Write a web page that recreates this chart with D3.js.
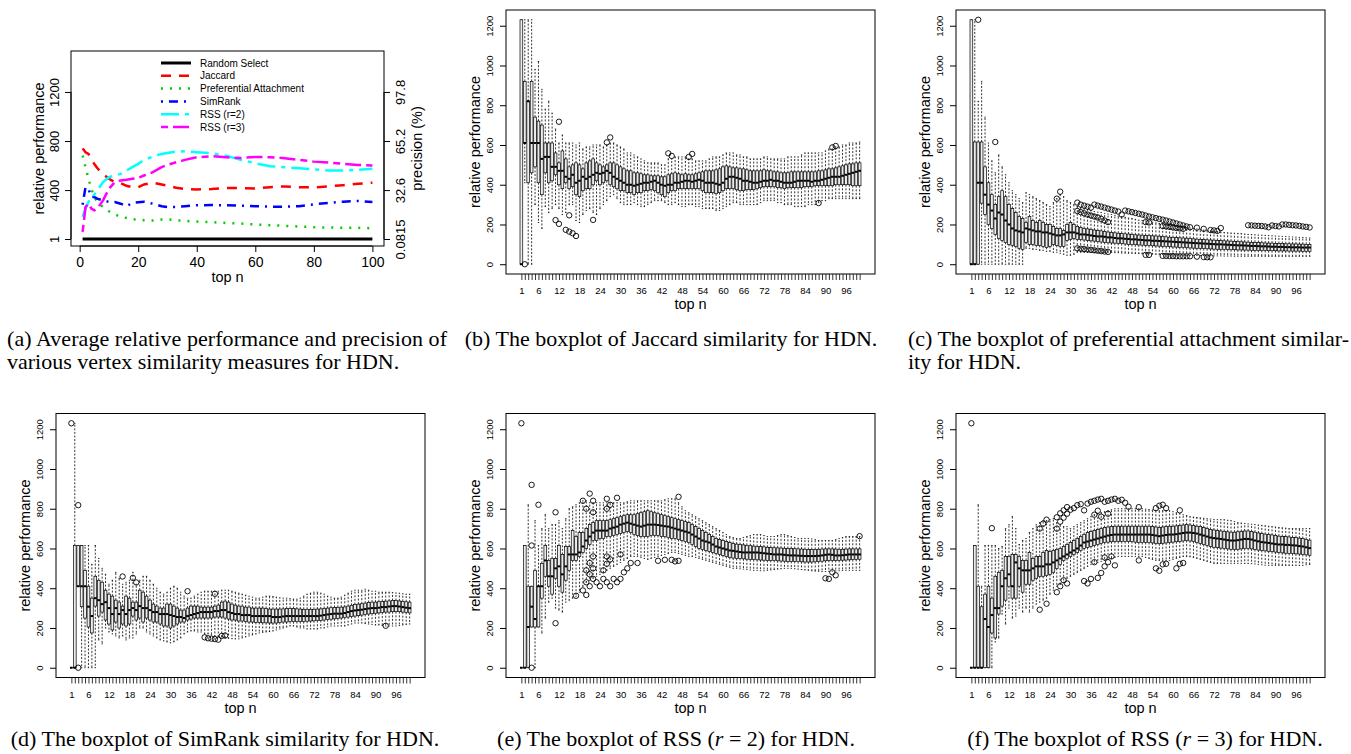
<!DOCTYPE html>
<html>
<head>
<meta charset="utf-8">
<script src="https://cdn.jsdelivr.net/npm/d3@7"></script>
<style>
  body { margin: 0; background: #fff; }
  svg { display: block; }
</style>
</head>
<body>
<svg id="fig" width="1351" height="754"></svg>
<script>
// ---------- panel (a): average relative performance ----------
var topN = [1,2,3,4,5,6,8,10,12,14,16,18,20,22,25,28,30,33,36,40,45,50,55,60,65,70,75,80,85,90,95,100];
var randomSel = [1,1,1,1,1,1,1,1,1,1,1,1,1,1,1,1,1,1,1,1,1,1,1,1,1,1,1,1,1,1,1,1];
var jaccard = [740,708,695,650,613,580,530,492,465,457,435,424,424,446,460,446,435,419,408,405,408,416,416,413,424,430,424,422,430,440,451,460];
var prefAttach = [681,587,492,411,343,303,262,227,203,181,173,162,160,154,151,160,162,154,149,143,138,132,127,119,114,108,103,97,95,92,92,89];
var simRank = [280,424,411,343,343,330,316,303,303,289,268,295,300,305,289,268,262,262,268,276,278,276,273,268,265,265,268,284,295,305,311,303];
var rss2 = [181,249,303,343,362,397,465,505,519,532,560,587,614,646,673,695,703,714,716,708,700,681,646,619,595,587,578,568,560,560,565,573];
var rss3 = [59,262,289,249,235,249,316,411,465,478,484,492,500,519,546,587,605,627,646,668,676,668,662,670,668,660,646,632,624,614,605,600];
var seriesNames = ["Random Select", "Jaccard", "Preferential Attachment", "SimRank", "RSS (r=2)", "RSS (r=3)"];
var leftTicks = [1, 400, 800, 1200];
var rightTickLabels = ["0.0815", "32.6", "65.2", "97.8"];
var xTicksA = [0, 20, 40, 60, 80, 100];

// ---------- boxplot panels: one value per top n = 1..100 ----------
var boxLabels = [1,6,12,18,24,30,36,42,48,54,60,66,72,78,84,90,96];
var yTicksBox = [0,200,400,600,800,1000,1200];

// (b) Jaccard
var jacMed = [0,610,820,610,610,610,530,540,540,490, 490,470,470,440,430,450,410,420,440,430,
  440,450,460,455,460,470,460,440,430,420, 410,400,400,395,400,405,410,410,415,420,
  410,400,395,400,400,410,410,415,420,420, 415,420,425,420,410,410,410,405,400,410,
  430,440,440,435,430,420,420,415,410,410, 415,420,420,425,420,420,415,410,410,410,
  415,420,420,420,420,415,420,420,425,430, 435,440,440,440,445,450,455,460,465,470];
var jacQ1 = [0,610,410,460,490,410,350,460,410,420, 450,400,380,410,380,390,350,340,370,380,
  380,400,420,400,410,420,400,390,380,370, 370,360,360,350,360,360,370,370,375,370,
  360,350,340,360,370,370,380,380,380,380, 380,380,380,370,360,360,360,355,360,370,
  380,380,380,375,370,370,375,375,375,380, 385,390,390,390,390,385,385,380,385,385,
  385,385,385,390,390,390,395,395,395,395, 395,395,400,400,400,400,400,395,395,395];
var jacQ3 = [1230,920,820,920,740,720,700,610,610,610, 560,510,570,530,490,500,510,500,480,510,
  520,530,510,500,490,500,510,510,500,490, 480,470,470,460,460,455,450,450,445,445,
  445,440,440,450,455,460,455,450,455,450, 450,455,460,465,470,470,470,475,480,490,
  495,490,485,485,480,480,475,470,470,470, 470,475,470,470,465,465,460,460,460,465,
  465,465,465,465,465,465,465,470,470,475, 480,480,485,490,495,500,505,505,510,510];
var jacLo = [0,410,0,0,300,210,180,290,260,280, 300,280,250,260,300,300,220,210,250,270,
  280,260,250,280,300,320,340,350,330,310, 300,300,300,310,300,290,290,300,310,320,
  320,320,310,300,300,310,300,290,290,300, 300,290,290,280,280,280,280,270,270,280,
  290,300,310,310,300,300,300,300,300,300, 310,320,320,320,320,310,310,300,300,300,
  290,290,290,290,300,300,300,310,320,320, 330,330,330,330,330,330,330,330,330,330];
var jacHi = [1230,1230,1230,1230,980,1020,880,780,820,760, 680,610,650,610,610,610,600,610,580,590,
  590,600,600,600,590,600,610,610,600,590, 580,560,560,550,540,530,520,510,510,510,
  510,500,500,530,530,540,540,540,540,530, 530,520,520,520,520,530,540,540,540,550,
  560,560,560,550,550,540,540,530,530,530, 530,540,540,530,530,530,530,530,540,540,
  540,540,550,560,560,560,560,560,560,570, 580,580,590,590,600,600,610,610,610,615];
var jacOut = [[2,0],[11,222],[12,717],[12,203],[14,173],[15,246],[15,164],[16,156],[17,142],[22,223],
  [26,613],[27,638],[44,558],[45,545],[50,540],[51,555],[88,308],[92,588],[93,595]];

// (c) preferential attachment
var paMed = [0,0,410,410,350,300,270,230,260,250, 220,200,180,170,165,160,180,175,170,165,
  165,160,160,155,150,145,145,150,160,160, 160,155,150,150,148,145,142,140,140,138,
  135,135,132,130,130,128,127,125,125,123, 122,120,120,118,118,117,116,115,114,113,
  112,111,110,109,108,107,106,105,104,103, 102,101,100,100,99,98,97,96,95,95,
  94,93,92,92,91,90,90,89,88,88, 87,87,86,86,85,85,85,84,84,84];
var paQ1 = [0,0,0,307,250,200,180,150,130,120, 110,100,95,90,80,75,110,100,100,95,
  95,90,85,90,100,95,90,90,120,125, 130,125,125,122,120,118,116,114,112,110,
  108,107,106,105,104,102,100,99,98,97, 96,95,94,93,92,91,90,89,88,87,
  86,85,84,83,82,81,80,80,79,78, 77,76,75,75,74,74,73,73,72,72,
  71,71,70,70,70,69,69,68,68,68, 67,67,67,66,66,66,66,65,65,65];
var paQ3 = [1230,615,615,615,490,410,350,300,340,370, 340,300,280,260,240,230,210,240,220,210,
  220,210,200,200,190,180,180,170,200,210, 200,190,185,180,178,175,172,170,168,165,
  162,160,158,156,155,153,152,150,148,147, 146,145,144,143,142,141,140,138,136,135,
  134,133,132,131,130,128,126,125,124,123, 122,121,120,119,118,117,116,115,114,113,
  112,111,110,110,109,108,107,106,106,105, 104,104,103,103,102,102,101,101,100,100];
var paLo = [0,0,0,0,0,0,0,0,0,0, 0,0,0,0,0,0,80,80,75,75,
  70,70,65,65,60,60,55,50,45,45, 50,60,60,60,60,60,60,60,60,60,
  60,60,58,58,56,56,55,55,54,54, 53,52,52,51,50,50,50,49,48,48,
  47,47,46,46,45,45,44,44,44,43, 43,42,42,42,41,41,41,40,40,40,
  40,40,40,40,40,40,40,40,40,40, 40,40,40,40,40,40,40,40,40,40];
var paHi = [1230,1230,820,920,740,610,520,460,550,490, 450,410,370,350,330,310,360,350,340,330,
  320,310,300,290,310,330,350,340,320,310, 300,290,285,280,275,270,265,262,260,256,
  252,250,246,242,240,236,232,230,226,222, 220,217,214,211,208,205,203,200,198,195,
  192,190,187,185,182,180,177,175,172,170, 168,166,164,162,160,158,157,156,155,154,
  152,150,149,148,147,146,145,144,143,142, 141,140,139,138,137,136,135,134,133,132];
var paOut = [[3,1230],[8,615],[26,330],[27,365],
  [32,310],[33,300],[34,295],[35,290],[36,285],[37,300],[38,295],[39,290],[40,285],[41,280],[42,275],[43,270],[44,265],[45,250],
  [32,268],[33,262],[34,256],[35,250],[36,245],[37,240],[38,235],[39,228],[40,220],[41,212],
  [32,80],[33,78],[34,76],[35,74],[36,72],[37,70],[38,68],[39,66],[40,64],[41,62],
  [46,270],[47,266],[48,262],[49,258],[50,254],[51,250],[52,245],[53,240],[54,236],[55,232],[56,228],[57,224],[58,220],[59,215],[60,210],[61,205],[62,200],[63,195],[64,190],[65,186],
  [52,212],[53,210],[57,192],[58,190],[59,188],[60,185],[61,182],[62,180],[63,178],
  [52,47],[53,47],[57,42],[58,42],[59,41],[60,41],[61,40],[62,40],[63,40],[64,40],[65,40],[67,38],[69,36],[70,35],[71,35],
  [67,184],[69,178],[71,172],[72,170],[73,168],[74,182],
  [82,196],[83,195],[84,194],[85,193],[86,192],[87,190],[88,186],[89,195],[90,192],[91,190],[92,200],[93,200],[94,198],[95,196],[96,195],[97,193],[98,190],[99,188],[100,185]];

// (d) SimRank
var srMed = [0,0,410,410,410,307,260,350,340,320, 330,300,270,300,270,290,270,290,300,290,
  310,300,300,290,280,280,270,270,270,265, 260,255,255,250,260,265,270,275,280,280,
  280,280,285,285,290,290,280,275,270,270, 265,265,265,260,260,260,260,260,260,255,
  255,255,258,260,260,260,260,260,260,260, 260,260,260,262,265,268,270,272,272,272,
  275,280,285,288,290,292,295,298,300,300, 302,305,305,308,310,310,308,305,302,300];
var srQ1 = [0,0,410,307,250,205,175,310,260,280, 240,220,190,230,200,220,210,220,260,240,
  250,230,250,240,230,230,220,210,210,200, 210,220,230,230,240,245,250,250,250,250,
  250,250,255,255,255,250,245,240,240,235, 235,232,230,230,228,228,226,226,225,225,
  225,228,230,230,232,232,232,232,232,234, 235,236,237,238,240,242,244,246,248,250,
  252,255,258,260,262,265,268,270,272,274, 276,278,280,280,282,282,282,280,278,276];
var srQ3 = [0,615,615,615,490,410,350,460,440,430, 390,370,360,340,330,310,360,350,330,330,
  390,380,360,340,320,310,300,300,320,320, 310,300,290,290,300,310,310,310,305,305,
  305,305,310,315,330,335,330,320,315,310, 310,305,305,300,300,300,300,298,295,295,
  295,295,296,298,298,298,296,295,294,294, 294,294,295,296,298,300,302,303,304,305,
  306,310,314,318,320,322,325,328,330,330, 332,334,335,336,338,338,336,334,332,330];
var srLo = [0,0,410,0,0,0,0,0,140,120, 200,180,170,160,150,160,140,150,150,170,
  200,200,180,170,160,150,140,135,130,125, 130,140,150,170,180,185,185,180,180,170,
  170,165,160,158,155,150,148,146,145,145, 150,155,160,165,170,175,178,180,182,185,
  190,195,200,205,210,210,205,200,200,195, 195,195,195,200,200,205,210,210,210,210,
  210,215,220,225,225,225,222,220,218,215, 215,212,210,210,210,210,212,215,218,220];
var srHi = [0,1230,615,615,615,615,520,615,550,500, 470,420,440,480,450,420,430,440,480,420,
  440,460,460,440,420,400,380,370,380,400, 410,400,380,360,350,350,360,370,380,385,
  385,385,385,385,390,390,390,385,380,375, 370,365,360,355,350,350,355,360,360,358,
  355,352,350,350,348,345,345,350,360,370, 375,380,380,375,370,360,355,350,350,355,
  365,375,385,390,390,390,395,390,385,385, 380,380,380,380,378,376,375,372,370,370];
var srOut = [[1,1230],[3,818],[3,0],[16,459],[19,452],[20,429],[35,385],[40,153],[41,148],[42,146],
  [43,144],[44,141],[45,160],[46,162],[43,372],[93,211]];

// (e) RSS r = 2
var r2Med = [0,0,205,307,245,410,410,540,460,460, 500,510,470,510,570,570,570,580,610,640,
  660,680,690,690,690,690,700,705,710,720, 725,730,725,720,715,710,715,720,720,720,
  718,715,712,710,705,700,695,690,685,680, 670,660,650,640,635,630,620,610,605,600,
  595,590,588,585,582,580,580,580,580,580, 578,576,574,572,570,570,570,568,566,565,
  565,564,563,562,562,562,562,563,565,568, 570,568,565,565,566,568,570,570,570,570];
var r2Q1 = [0,0,0,205,205,205,350,460,410,370, 450,410,380,440,490,540,540,560,580,600,
  620,640,640,650,650,660,660,665,670,675, 680,685,680,670,665,660,660,660,665,665,
  665,660,660,655,650,650,645,640,635,630, 620,610,600,595,590,585,580,575,570,565,
  560,555,552,550,550,548,546,545,544,543, 542,541,540,540,540,538,537,536,535,535,
  535,534,533,532,532,532,533,534,536,538, 540,540,540,540,541,542,543,544,545,546];
var r2Q3 = [0,615,410,410,490,410,525,615,540,550, 550,615,570,610,610,690,660,680,680,700,
  720,730,740,740,740,740,745,750,755,760, 765,770,770,770,775,780,785,790,785,780,
  775,770,765,760,755,750,745,740,735,730, 720,710,700,690,680,670,660,650,645,640,
  635,630,625,622,620,618,616,614,612,610, 610,608,606,605,604,603,602,601,600,600,
  599,598,597,596,595,595,595,596,597,598, 598,598,597,596,596,597,598,598,598,598];
var r2Lo = [0,0,0,205,0,205,175,250,330,350, 300,290,280,330,340,350,360,380,410,430,
  440,450,460,470,480,490,500,510,520,530, 540,550,560,560,560,555,550,545,550,555,
  560,565,570,575,580,580,575,570,565,560, 560,555,550,545,540,535,530,525,520,515,
  510,505,500,500,498,496,494,492,490,490, 488,488,490,492,494,496,498,500,500,500,
  498,496,494,492,490,488,486,485,484,484, 485,486,487,488,489,490,490,490,490,490];
var r2Hi = [0,615,820,410,740,615,700,770,700,720, 720,740,700,750,800,810,820,830,840,840,
  830,830,830,830,830,830,830,830,830,830, 830,835,840,840,840,840,840,840,840,840,
  840,840,845,850,850,850,830,810,790,780, 770,760,750,740,730,720,710,700,690,680,
  670,660,655,650,650,655,660,665,670,670, 670,665,660,660,660,665,670,670,665,660,
  655,650,650,650,650,648,645,640,640,640, 640,640,645,650,655,660,660,660,660,660];
var r2Out = [[1,1230],[4,0],[4,615],[4,920],[6,820],[11,782],[11,224],[17,362],[19,389],[19,840],
  [20,366],[20,800],[20,490],[20,430],[21,876],[21,527],[21,470],[21,410],[22,840],[22,782],
  [22,560],[22,500],[22,447],[23,430],[24,410],[25,490],[25,447],[26,850],[26,800],[26,560],
  [26,523],[26,430],[27,820],[27,545],[27,410],[28,447],[29,855],[29,430],[30,570],[30,447],
  [31,480],[32,500],[33,527],[35,527],[41,538],[43,543],[45,543],[46,535],[47,860],[47,538],
  [90,450],[91,447],[92,480],[93,465],[100,662]];

// (f) RSS r = 3
var r3Med = [0,0,0,0,245,205,265,300,300,410, 450,470,410,530,500,490,490,490,500,510,
  510,510,520,520,530,540,550,560,570,580, 590,600,615,630,635,640,645,650,655,660,
  665,668,670,670,670,670,670,670,670,670, 670,670,670,668,665,662,665,668,670,670,
  672,675,678,680,680,678,675,670,665,660, 655,652,650,648,645,642,640,640,642,645,
  648,648,645,640,636,632,630,628,625,622, 620,620,618,618,616,615,612,610,606,602];
var r3Q1 = [0,0,0,0,0,0,175,150,270,310, 340,410,350,350,410,380,420,420,440,450,
  460,460,465,470,480,500,520,540,550,560, 570,580,590,600,605,610,615,620,625,630,
  632,634,635,635,635,635,635,635,632,630, 630,630,630,628,626,624,626,628,630,632,
  634,636,638,640,638,635,630,625,620,615, 610,606,604,602,600,598,596,595,596,598,
  600,600,598,595,592,590,588,586,584,582, 580,578,576,575,574,573,572,570,568,566];
var r3Q3 = [0,615,410,307,370,410,350,460,480,490, 560,560,570,570,560,540,540,580,550,560,
  560,580,590,585,590,595,600,610,620,630, 640,650,660,670,680,685,690,695,700,705,
  708,710,712,712,712,712,712,712,712,712, 712,712,712,710,708,706,708,710,712,712,
  714,716,718,720,718,715,712,710,705,700, 696,693,690,688,686,684,682,682,684,686,
  688,688,685,682,678,675,672,670,668,665, 662,660,660,658,656,655,652,650,646,642];
var r3Lo = [0,0,0,0,0,0,0,130,150,270, 220,300,250,260,300,280,300,280,300,320,
  330,340,350,370,390,410,420,430,450,460, 470,480,490,500,510,520,525,530,535,540,
  545,550,555,560,560,560,560,560,560,560, 560,555,550,545,540,540,540,540,540,545,
  550,555,560,560,558,555,550,545,540,535, 530,525,525,525,525,525,525,525,525,525,
  525,525,524,522,520,518,516,515,515,515, 515,515,515,515,515,515,515,515,518,520];
var r3Hi = [0,615,820,410,615,615,615,615,600,610, 700,720,760,700,620,640,650,680,700,720,
  730,740,740,745,750,730,720,710,710,700, 710,720,730,740,750,760,770,775,780,785,
  790,795,800,800,800,800,800,800,800,800, 800,798,796,794,792,790,790,790,790,785,
  780,775,770,765,760,758,756,754,752,750, 748,746,745,745,745,742,740,735,730,728,
  726,724,722,720,718,716,714,712,710,708, 706,704,702,700,700,700,700,700,700,700];
var r3Out = [[1,1230],[7,702],[21,292],[21,700],[22,725],[23,745],[23,322],[26,757],[26,700],[26,380],
  [27,777],[27,735],[27,410],[28,792],[28,755],[28,440],[29,808],[29,775],[29,424],[30,795],
  [31,803],[32,818],[33,823],[34,436],[34,792],[35,826],[35,424],[36,835],[36,447],[37,840],
  [37,531],[37,770],[38,846],[38,452],[38,790],[39,850],[39,477],[39,760],[40,835],[40,510],
  [40,555],[41,840],[41,775],[41,531],[42,846],[42,560],[43,850],[43,515],[44,840],[45,845],
  [46,830],[47,810],[50,808],[50,540],[55,803],[55,500],[56,815],[56,488],[57,820],[57,520],
  [58,803],[58,523],[61,500],[62,792],[62,523],[63,527]];

var sans = "'Liberation Sans', Arial, Helvetica, sans-serif";
var serif = "'Liberation Serif', 'Times New Roman', Times, serif";
var plainNum = d3.format("d");
var svg = d3.select("#fig");

function rotText(g, x, y, txt, size) {
  return g.append("text")
    .attr("transform", "translate(" + x + "," + y + ") rotate(-90)")
    .attr("text-anchor", "middle")
    .attr("dy", "0.35em")
    .style("font-family", sans)
    .style("font-size", size + "px")
    .text(txt);
}

// ---------- draw panel (a) ----------
function drawLinePanel() {
  var x0 = 71, x1 = 384, y0 = 51, y1 = 246;
  var x = d3.scaleLinear().domain([-2.96, 103.96]).range([x0, x1]);
  var y = d3.scaleLinear().domain([-56, 1534]).range([y1, y0]);
  var g = svg.append("g");

  var series = [randomSel, jaccard, prefAttach, simRank, rss2, rss3];
  var colors = ["#000000", "#ff0000", "#00cd00", "#0000ff", "#00ffff", "#ff00ff"];
  var dashes = [null, "10,8", "2,7", "2,6,9,6", "18,6,4,6", "7,5,16,5"];
  var widths = [3, 2.5, 2.5, 2.5, 2.5, 2.5];

  var line = d3.line()
    .x(function (d, i) { return x(topN[i]); })
    .y(function (d) { return y(d); });

  series.forEach(function (s, k) {
    g.append("path")
      .attr("d", line(s))
      .attr("fill", "none")
      .attr("stroke", colors[k])
      .attr("stroke-width", widths[k])
      .attr("stroke-dasharray", dashes[k]);
  });

  // legend (no border)
  var lg = g.append("g");
  seriesNames.forEach(function (name, k) {
    var ly = 63 + k * 12.8;
    lg.append("line")
      .attr("x1", 161).attr("x2", 191).attr("y1", ly).attr("y2", ly)
      .attr("stroke", colors[k])
      .attr("stroke-width", widths[k])
      .attr("stroke-dasharray", dashes[k]);
    lg.append("text")
      .attr("x", 200).attr("y", ly).attr("dy", "0.35em")
      .style("font-family", sans).style("font-size", "10px")
      .text(name);
  });

  g.append("rect")
    .attr("x", x0).attr("y", y0).attr("width", x1 - x0).attr("height", y1 - y0)
    .attr("fill", "none").attr("stroke", "#000").attr("stroke-width", 1);

  // bottom axis
  var xa = g.append("g").attr("transform", "translate(0," + y1 + ")")
    .call(d3.axisBottom(x).tickValues(xTicksA).tickSize(6).tickPadding(5));
  xa.select(".domain").attr("d", "M" + x(0) + ",0H" + x(100));
  xa.selectAll("text").style("font-family", sans).style("font-size", "14px");

  // left axis
  var la = g.append("g").attr("transform", "translate(" + x0 + ",0)")
    .call(d3.axisLeft(y).tickValues(leftTicks).tickSize(6).tickFormat(plainNum));
  la.select(".domain").attr("d", "M0," + y(1) + "V" + y(1200));
  la.selectAll(".tick text")
    .attr("x", 0).attr("dy", null)
    .attr("text-anchor", "middle")
    .attr("transform", "translate(-12,0) rotate(-90)")
    .style("font-family", sans).style("font-size", "13px");

  // right axis
  var ra = g.append("g").attr("transform", "translate(" + x1 + ",0)")
    .call(d3.axisRight(y).tickValues(leftTicks).tickSize(6)
      .tickFormat(function (d, i) { return rightTickLabels[i]; }));
  ra.select(".domain").attr("d", "M0," + y(1) + "V" + y(1200));
  ra.selectAll(".tick text")
    .attr("x", 0).attr("dy", null)
    .attr("text-anchor", "middle")
    .attr("transform", "translate(21,0) rotate(-90)")
    .style("font-family", sans).style("font-size", "13px");

  g.append("text").attr("x", (x0 + x1) / 2).attr("y", 282)
    .attr("text-anchor", "middle")
    .style("font-family", sans).style("font-size", "14.5px").text("top n");
  rotText(g, 39, (y0 + y1) / 2, "relative performance", 14.5);
  rotText(g, 417, (y0 + y1) / 2, "precision (%)", 14.5);
}

// ---------- boxplot panel ----------
function drawBoxPanel(x0, y0, med, q1, q3, lo, hi, outl) {
  var x1 = x0 + 369, y1 = y0 + 264;
  var x = d3.scaleLinear().domain([-3.5, 104.5]).range([x0, x1]);
  var y = d3.scaleLinear().domain([-49.2, 1279.2]).range([y1, y0]);
  var g = svg.append("g");
  var bw = 0.8 * (x(1) - x(0));

  var rows = med.map(function (m, i) {
    return { n: i + 1, med: m, q1: q1[i], q3: q3[i], lo: lo[i], hi: hi[i] };
  });

  var b = g.selectAll("g.box").data(rows).enter().append("g").attr("class", "box");

  // dashed whiskers
  b.append("line")
    .attr("x1", function (d) { return x(d.n); })
    .attr("x2", function (d) { return x(d.n); })
    .attr("y1", function (d) { return y(d.q3); })
    .attr("y2", function (d) { return y(d.hi); })
    .attr("stroke", "#000").attr("stroke-width", 0.8).attr("stroke-dasharray", "2,1.6");
  b.append("line")
    .attr("x1", function (d) { return x(d.n); })
    .attr("x2", function (d) { return x(d.n); })
    .attr("y1", function (d) { return y(d.q1); })
    .attr("y2", function (d) { return y(d.lo); })
    .attr("stroke", "#000").attr("stroke-width", 0.8).attr("stroke-dasharray", "2,1.6");
  // staples
  ["hi", "lo"].forEach(function (k) {
    b.append("line")
      .attr("x1", function (d) { return x(d.n) - bw / 4; })
      .attr("x2", function (d) { return x(d.n) + bw / 4; })
      .attr("y1", function (d) { return y(d[k]); })
      .attr("y2", function (d) { return y(d[k]); })
      .attr("stroke", "#000").attr("stroke-width", 0.8);
  });
  // boxes
  b.append("rect")
    .attr("x", function (d) { return x(d.n) - bw / 2; })
    .attr("width", bw)
    .attr("y", function (d) { return y(d.q3); })
    .attr("height", function (d) { return Math.max(0, y(d.q1) - y(d.q3)); })
    .attr("fill", "#ececec").attr("stroke", "#000").attr("stroke-width", 0.7);
  // medians
  b.append("line")
    .attr("x1", function (d) { return x(d.n) - bw / 2; })
    .attr("x2", function (d) { return x(d.n) + bw / 2; })
    .attr("y1", function (d) { return y(d.med); })
    .attr("y2", function (d) { return y(d.med); })
    .attr("stroke", "#000").attr("stroke-width", 2);

  // outliers
  g.selectAll("circle").data(outl).enter().append("circle")
    .attr("cx", function (d) { return x(d[0]); })
    .attr("cy", function (d) { return y(d[1]); })
    .attr("r", 2.7)
    .attr("fill", "none").attr("stroke", "#000").attr("stroke-width", 0.9);

  g.append("rect")
    .attr("x", x0).attr("y", y0).attr("width", x1 - x0).attr("height", y1 - y0)
    .attr("fill", "none").attr("stroke", "#000").attr("stroke-width", 1);

  // x axis: a tick per box, labels only where R kept them
  var xa = g.append("g").attr("transform", "translate(0," + y1 + ")")
    .call(d3.axisBottom(x).tickValues(d3.range(1, 101)).tickSize(6)
      .tickFormat(function (d) { return boxLabels.indexOf(d) >= 0 ? d : ""; }));
  xa.select(".domain").remove();
  xa.selectAll("line").attr("stroke-width", 0.8);
  xa.selectAll("text").attr("y", 13.5)
    .style("font-family", sans).style("font-size", "9.5px");

  // y axis with labels parallel to the axis
  var ya = g.append("g").attr("transform", "translate(" + x0 + ",0)")
    .call(d3.axisLeft(y).tickValues(yTicksBox).tickSize(6).tickFormat(plainNum));
  ya.select(".domain").remove();
  ya.selectAll(".tick text")
    .attr("x", 0).attr("dy", null)
    .attr("text-anchor", "middle")
    .attr("transform", "translate(-13,0) rotate(-90)")
    .style("font-family", sans).style("font-size", "9.5px");

  g.append("text").attr("x", (x0 + x1) / 2).attr("y", y1 + 35)
    .attr("text-anchor", "middle")
    .style("font-family", sans).style("font-size", "14.5px").text("top n");
  rotText(g, x0 - 31, (y0 + y1) / 2, "relative performance", 14.5);
}

drawLinePanel();
drawBoxPanel(506, 10, jacMed, jacQ1, jacQ3, jacLo, jacHi, jacOut);
drawBoxPanel(956, 10, paMed, paQ1, paQ3, paLo, paHi, paOut);
drawBoxPanel(56, 413.5, srMed, srQ1, srQ3, srLo, srHi, srOut);
drawBoxPanel(506, 413.5, r2Med, r2Q1, r2Q3, r2Lo, r2Hi, r2Out);
drawBoxPanel(956, 413.5, r3Med, r3Q1, r3Q3, r3Lo, r3Hi, r3Out);

// ---------- captions ----------
function caption(x, y, txt, anchor, len) {
  var t = svg.append("text")
    .attr("x", x).attr("y", y)
    .attr("text-anchor", anchor)
    .style("font-family", serif).style("font-size", "22px")
    .text(txt);
  if (len) t.attr("textLength", len).attr("lengthAdjust", "spacing");
  return t;
}
caption(7, 346, "(a) Average relative performance and precision of", "start", 440);
caption(7, 369, "various vertex similarity measures for HDN.", "start");
caption(671, 346, "(b) The boxplot of Jaccard similarity for HDN.", "middle");
caption(908, 346, "(c) The boxplot of preferential attachment similar-", "start", 441);
caption(908, 369, "ity for HDN.", "start");
caption(225, 746, "(d) The boxplot of SimRank similarity for HDN.", "middle");

var capE = svg.append("text").attr("x", 676).attr("y", 746).attr("text-anchor", "middle")
  .style("font-family", serif).style("font-size", "22px");
capE.append("tspan").text("(e) The boxplot of RSS (");
capE.append("tspan").style("font-style", "italic").text("r");
capE.append("tspan").text(" = 2) for HDN.");

var capF = svg.append("text").attr("x", 1145).attr("y", 746).attr("text-anchor", "middle")
  .style("font-family", serif).style("font-size", "22px");
capF.append("tspan").text("(f) The boxplot of RSS (");
capF.append("tspan").style("font-style", "italic").text("r");
capF.append("tspan").text(" = 3) for HDN.");
</script>
</body>
</html>
